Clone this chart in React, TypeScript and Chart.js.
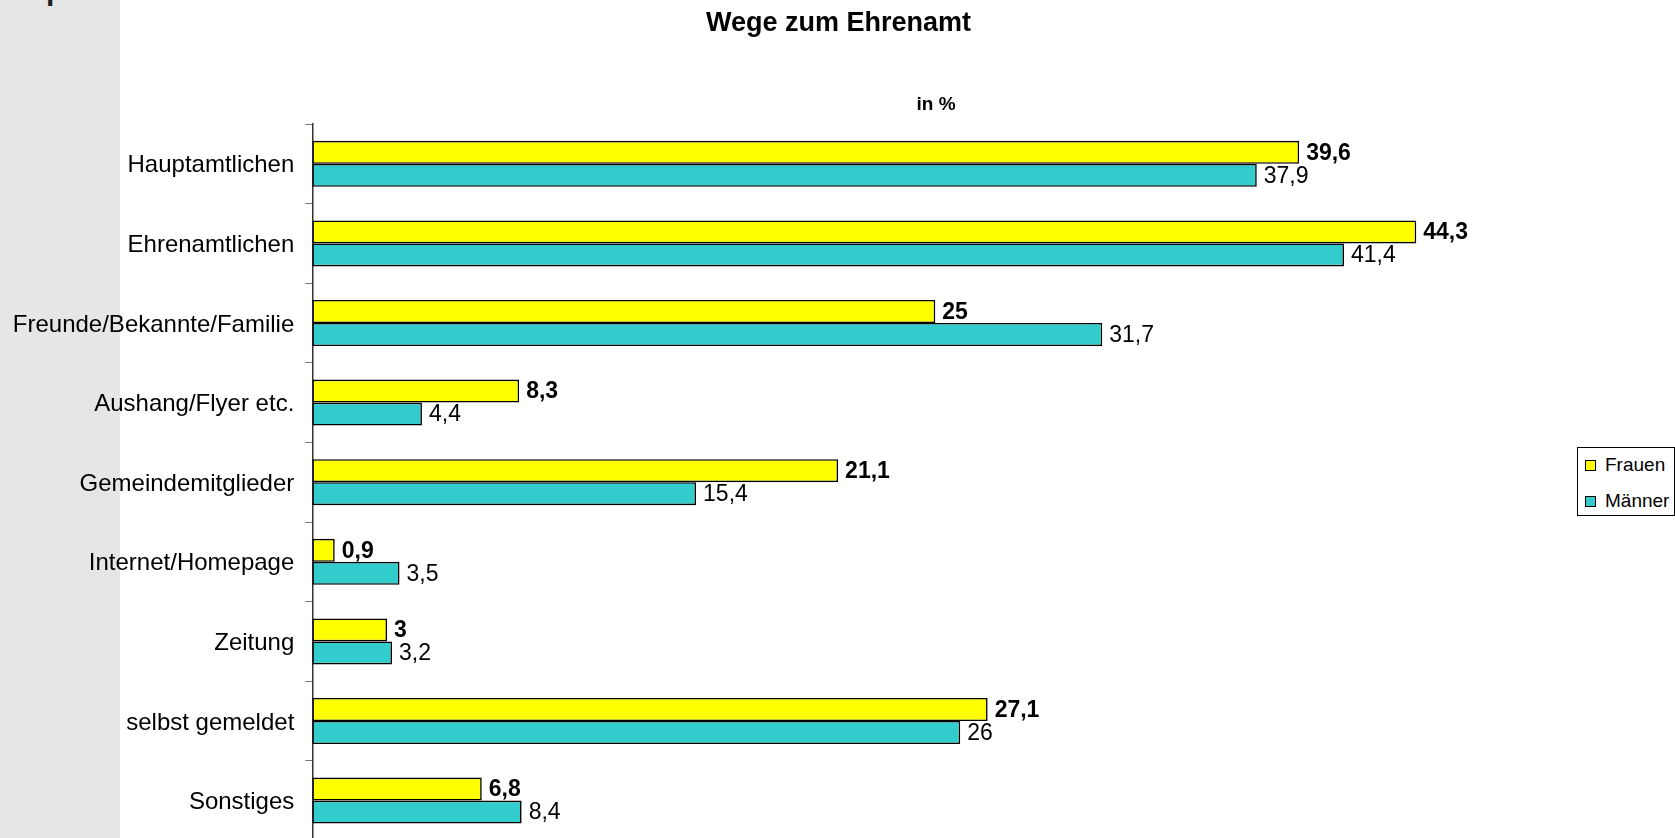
import React, { useEffect, useRef } from "react";
import { Chart, registerables } from "chart.js";

Chart.register(...registerables);

const categories = [
  "Hauptamtlichen",
  "Ehrenamtlichen",
  "Freunde/Bekannte/Familie",
  "Aushang/Flyer etc.",
  "Gemeindemitglieder",
  "Internet/Homepage",
  "Zeitung",
  "selbst gemeldet",
  "Sonstiges",
];
const frauen = [39.6, 44.3, 25, 8.3, 21.1, 0.9, 3, 27.1, 6.8];
const maenner = [37.9, 41.4, 31.7, 4.4, 15.4, 3.5, 3.2, 26, 8.4];
const seriesNames = ["Frauen", "Männer"];
const seriesColors = ["#FFFF00", "#33CCCC"];
const chartTitle = "Wege zum Ehrenamt";
const chartSubtitle = "in %";

const FONT = '"Liberation Sans", Arial, Helvetica, sans-serif';

const valueLabels = {
  id: "valueLabels",
  afterDatasetsDraw(chart: any) {
    const ctx = chart.ctx;
    chart.data.datasets.forEach((ds: any, i: number) => {
      const meta = chart.getDatasetMeta(i);
      ctx.save();
      ctx.font = `${i === 0 ? "bold " : ""}23px ${FONT}`;
      ctx.fillStyle = "#000";
      ctx.textAlign = "left";
      ctx.textBaseline = "middle";
      meta.data.forEach((el: any, j: number) => {
        const v = ds.data[j];
        ctx.fillText(String(v).replace(".", ","), el.x + 7, el.y + 1);
      });
      ctx.restore();
    });
  },
};

export default function App() {
  const ref = useRef<HTMLCanvasElement | null>(null);

  useEffect(() => {
    if (!ref.current) return;
    const chart = new Chart(ref.current, {
      type: "bar",
      data: {
        labels: categories,
        datasets: [
          {
            label: seriesNames[0],
            data: frauen,
            backgroundColor: seriesColors[0],
            borderColor: "#000",
            borderWidth: 1.6,
            borderSkipped: false,
          },
          {
            label: seriesNames[1],
            data: maenner,
            backgroundColor: seriesColors[1],
            borderColor: "#000",
            borderWidth: 1.6,
            borderSkipped: false,
          },
        ],
      },
      options: {
        indexAxis: "y",
        responsive: false,
        animation: false,
        datasets: {
          bar: { categoryPercentage: 0.578, barPercentage: 1.0 },
        },
        layout: { padding: { left: 0, top: 124, right: 116.7, bottom: 9.6 } },
        plugins: {
          legend: { display: false },
          tooltip: { enabled: false },
          title: { display: false },
        },
        scales: {
          x: { type: "linear", min: 0, max: 50, display: false },
          y: {
            type: "category",
            afterFit: (scale: any) => {
              scale.width = 312.3;
              scale.paddingTop = 0;
              scale.paddingBottom = 0;
            },
            grid: {
              offset: true,
              drawOnChartArea: false,
              drawTicks: true,
              tickLength: 7,
              color: "#777",
              lineWidth: 1,
            },
            border: { display: true, color: "#333", width: 1.5 },
            ticks: {
              padding: 11,
              labelOffset: 2,
              color: "#000",
              font: { family: FONT, size: 24 },
            },
          },
        },
      },
      plugins: [valueLabels],
    } as any);
    return () => chart.destroy();
  }, []);

  return (
    <div
      style={{
        position: "fixed",
        left: 0,
        top: 0,
        width: 1675,
        height: 838,
        overflow: "hidden",
        background: "#fff",
        fontFamily: FONT,
      }}
    >
      <div style={{ position: "absolute", left: 0, top: 0, width: 120, height: 838, background: "#E6E6E6" }} />
      <div
        style={{
          position: "absolute",
          left: 46,
          top: -25.4,
          fontSize: 30,
          lineHeight: "30px",
          fontWeight: "bold",
          color: "#222",
        }}
      >
        p
      </div>
      <canvas ref={ref} width={1675} height={850} style={{ position: "absolute", left: 0, top: 0, width: 1675, height: 850 }} />
      <div
        style={{
          position: "absolute",
          left: 0,
          top: 9,
          width: 1677,
          textAlign: "center",
          fontSize: 27,
          lineHeight: "27px",
          fontWeight: "bold",
          color: "#000",
        }}
      >
        {chartTitle}
      </div>
      <div
        style={{
          position: "absolute",
          left: 836,
          top: 93.9,
          width: 200,
          textAlign: "center",
          fontSize: 19,
          lineHeight: "19px",
          fontWeight: "bold",
          color: "#000",
        }}
      >
        {chartSubtitle}
      </div>
      <div
        style={{
          position: "absolute",
          left: 1577,
          top: 447,
          width: 98,
          height: 69,
          boxSizing: "border-box",
          border: "1px solid #000",
          background: "#fff",
        }}
      >
        {seriesNames.map((name, i) => (
          <React.Fragment key={name}>
            <div
              style={{
                position: "absolute",
                left: 7,
                top: 12 + i * 36,
                width: 11,
                height: 11,
                boxSizing: "border-box",
                border: "1.5px solid #000",
                background: seriesColors[i],
              }}
            />
            <div
              style={{
                position: "absolute",
                left: 27,
                top: 6.7 + i * 36,
                fontSize: 19,
                lineHeight: "19px",
                color: "#000",
                whiteSpace: "nowrap",
              }}
            >
              {name}
            </div>
          </React.Fragment>
        ))}
      </div>
    </div>
  );
}
